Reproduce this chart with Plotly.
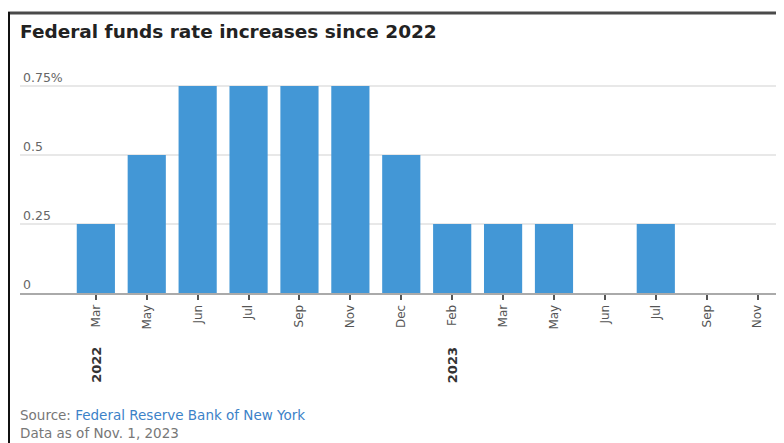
import plotly.graph_objects as go

months = ["Mar", "May", "Jun", "Jul", "Sep", "Nov", "Dec",
          "Feb", "Mar", "May", "Jun", "Jul", "Sep", "Nov"]
increases = [0.25, 0.5, 0.75, 0.75, 0.75, 0.75, 0.5,
             0.25, 0.25, 0.25, 0, 0.25, 0, 0]
year_labels = ["2022", "2023"]
year_start_index = [0, 7]
y_ticks = [0, 0.25, 0.5, 0.75]
y_ticktext = ["0", "0.25", "0.5", "0.75%"]

# page offset of the figure (default body margin)
OFF = 8
W, H = 784 - OFF, 443 - OFF
ML = 20 - OFF
MR = W - (780 - OFF)
MB = H - (293 - OFF)
PH = 230
MT = H - MB - PH
PW = W - ML - MR
YMAX = 0.25 * PH / 69.0

def px(x):  # page pixel -> paper x
    return (x - OFF - ML) / PW

def py(y):  # page pixel -> paper y
    return (H - MB - (y - OFF)) / PH

xs = list(range(len(months)))

fig = go.Figure(go.Bar(
    x=xs, y=increases, width=0.75,
    marker=dict(color="#4397d6", line=dict(width=0)),
))

FONT = "DejaVu Sans, Liberation Sans, Arial, sans-serif"
fig.update_layout(
    width=W, height=H,
    margin=dict(l=ML, r=MR, t=MT, b=MB),
    paper_bgcolor="white", plot_bgcolor="white",
    showlegend=False,
    font=dict(family=FONT, color="#555"),
)
fig.update_xaxes(
    range=[-1.49, 13.44],
    tickmode="array", tickvals=xs, ticktext=months,
    tickangle=-90, tickfont=dict(size=12, color="#555"),
    ticks="outside", ticklen=5, tickwidth=1.5, tickcolor="#555",
    showline=True, linecolor="#aaaaaa", linewidth=2,
    showgrid=False, zeroline=False,
)
fig.update_yaxes(
    range=[0, YMAX],
    tickmode="array", tickvals=y_ticks, ticktext=y_ticktext,
    ticklabelposition="inside top", tickfont=dict(size=12.5, color="#666"),
    showgrid=True, gridcolor="#e8e8e8", gridwidth=1.5,
    zeroline=False, showline=False, ticks="",
)

annotations = [
    dict(text="<b>Federal funds rate increases since 2022</b>",
         xref="paper", yref="paper", x=px(18), y=py(32),
         xanchor="left", yanchor="middle", showarrow=False,
         font=dict(size=18.5, color="#222")),
    dict(text='Source: <span style="color:#3c82c8">Federal Reserve Bank of New York</span>',
         xref="paper", yref="paper", x=px(18), y=py(415),
         xanchor="left", yanchor="middle", showarrow=False,
         font=dict(size=13.5, color="#777")),
    dict(text="Data as of Nov. 1, 2023",
         xref="paper", yref="paper", x=px(18), y=py(433),
         xanchor="left", yanchor="middle", showarrow=False,
         font=dict(size=13.5, color="#777")),
]
for lbl, idx in zip(year_labels, year_start_index):
    annotations.append(dict(
        text=f"<b>{lbl}</b>", x=idx, xref="x", yref="paper", y=py(365),
        xanchor="center", yanchor="middle", textangle=-90, showarrow=False,
        font=dict(size=13, color="#333")))
fig.update_layout(annotations=annotations)

shapes = [
    dict(type="line", xref="paper", yref="paper", x0=px(8), x1=px(784),
         y0=py(13), y1=py(13), line=dict(color="#4a4a4a", width=3)),
    dict(type="line", xref="paper", yref="paper", x0=px(9), x1=px(9),
         y0=py(12), y1=py(443), line=dict(color="#111", width=2)),
    dict(type="line", xref="paper", yref="paper", x0=px(780), x1=px(780),
         y0=py(12), y1=py(410), line=dict(color="#cccccc", width=1.5)),
]
fig.update_layout(shapes=shapes)

fig.write_html("out.html")
